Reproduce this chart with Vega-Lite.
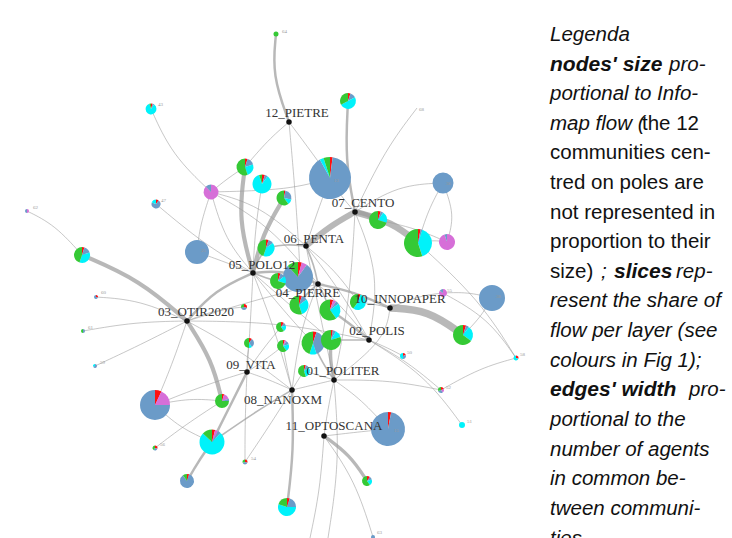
{
"$schema": "https://vega.github.io/schema/vega-lite/v6.json",
"width": 732, "height": 538,
"autosize": "none",
"padding": 0,
"background": "white",
"config": {"view": {"stroke": null}, "axis": {"disable": true}, "legend": {"disable": true}},
"datasets": {
"edges": [
{"e":1,"k":0,"x":289,"y":122,"w":3},{"e":1,"k":1,"x":272,"y":75,"w":3},{"e":1,"k":2,"x":276,"y":34,"w":3},
{"e":2,"k":0,"x":289,"y":122,"w":1},{"e":2,"k":1,"x":268,"y":140,"w":1},{"e":2,"k":2,"x":245,"y":167,"w":1},
{"e":3,"k":0,"x":289,"y":122,"w":1},{"e":3,"k":1,"x":296,"y":200,"w":1},{"e":3,"k":2,"x":300,"y":270,"w":1},
{"e":4,"k":0,"x":348,"y":101,"w":3},{"e":4,"k":1,"x":345,"y":160,"w":3},{"e":4,"k":2,"x":355,"y":212,"w":3},
{"e":5,"k":0,"x":355,"y":212,"w":8},{"e":5,"k":1,"x":392,"y":222,"w":8},{"e":5,"k":2,"x":418,"y":243,"w":8},
{"e":6,"k":0,"x":306,"y":246,"w":7},{"e":6,"k":1,"x":330,"y":226,"w":7},{"e":6,"k":2,"x":355,"y":212,"w":7},
{"e":7,"k":0,"x":355,"y":212,"w":5},{"e":7,"k":1,"x":367,"y":214,"w":5},{"e":7,"k":2,"x":378,"y":220,"w":5},
{"e":8,"k":0,"x":355,"y":212,"w":1},{"e":8,"k":1,"x":340,"y":195,"w":1},{"e":8,"k":2,"x":330,"y":178,"w":1},
{"e":9,"k":0,"x":355,"y":212,"w":1},{"e":9,"k":1,"x":398,"y":185,"w":1},{"e":9,"k":2,"x":443,"y":183,"w":1},
{"e":10,"k":0,"x":355,"y":212,"w":1},{"e":10,"k":1,"x":385,"y":150,"w":1},{"e":10,"k":2,"x":417,"y":108,"w":1},
{"e":11,"k":0,"x":443,"y":183,"w":1},{"e":11,"k":1,"x":455,"y":215,"w":1},{"e":11,"k":2,"x":447,"y":242,"w":1},
{"e":12,"k":0,"x":443,"y":183,"w":1},{"e":12,"k":1,"x":428,"y":210,"w":1},{"e":12,"k":2,"x":418,"y":243,"w":1},
{"e":13,"k":0,"x":418,"y":243,"w":1},{"e":13,"k":1,"x":433,"y":240,"w":1},{"e":13,"k":2,"x":447,"y":242,"w":1},
{"e":14,"k":0,"x":253,"y":273,"w":5},{"e":14,"k":1,"x":238,"y":220,"w":5},{"e":14,"k":2,"x":245,"y":167,"w":5},
{"e":15,"k":0,"x":253,"y":273,"w":5},{"e":15,"k":1,"x":262,"y":235,"w":5},{"e":15,"k":2,"x":284,"y":198,"w":5},
{"e":16,"k":0,"x":253,"y":273,"w":1},{"e":16,"k":1,"x":225,"y":240,"w":1},{"e":16,"k":2,"x":211,"y":192,"w":1},
{"e":17,"k":0,"x":211,"y":192,"w":1},{"e":17,"k":1,"x":172,"y":155,"w":1},{"e":17,"k":2,"x":151,"y":109,"w":1},
{"e":18,"k":0,"x":211,"y":192,"w":1},{"e":18,"k":1,"x":228,"y":178,"w":1},{"e":18,"k":2,"x":245,"y":167,"w":1},
{"e":19,"k":0,"x":211,"y":192,"w":1},{"e":19,"k":1,"x":200,"y":225,"w":1},{"e":19,"k":2,"x":197,"y":252,"w":1},
{"e":20,"k":0,"x":211,"y":192,"w":1},{"e":20,"k":1,"x":270,"y":225,"w":1},{"e":20,"k":2,"x":318,"y":284,"w":1},
{"e":21,"k":0,"x":211,"y":192,"w":1},{"e":21,"k":1,"x":290,"y":190,"w":1},{"e":21,"k":2,"x":330,"y":178,"w":1},
{"e":22,"k":0,"x":253,"y":273,"w":1},{"e":22,"k":1,"x":255,"y":230,"w":1},{"e":22,"k":2,"x":262,"y":184,"w":1},
{"e":23,"k":0,"x":253,"y":273,"w":2},{"e":23,"k":1,"x":258,"y":260,"w":2},{"e":23,"k":2,"x":266,"y":248,"w":2},
{"e":24,"k":0,"x":306,"y":246,"w":2},{"e":24,"k":1,"x":285,"y":244,"w":2},{"e":24,"k":2,"x":266,"y":248,"w":2},
{"e":25,"k":0,"x":306,"y":246,"w":1},{"e":25,"k":1,"x":318,"y":210,"w":1},{"e":25,"k":2,"x":330,"y":178,"w":1},
{"e":26,"k":0,"x":253,"y":273,"w":3},{"e":26,"k":1,"x":285,"y":270,"w":3},{"e":26,"k":2,"x":318,"y":284,"w":3},
{"e":27,"k":0,"x":253,"y":273,"w":2},{"e":27,"k":1,"x":266,"y":278,"w":2},{"e":27,"k":2,"x":278,"y":281,"w":2},
{"e":28,"k":0,"x":253,"y":273,"w":1},{"e":28,"k":1,"x":225,"y":262,"w":1},{"e":28,"k":2,"x":197,"y":252,"w":1},
{"e":29,"k":0,"x":187,"y":321,"w":5},{"e":29,"k":1,"x":140,"y":280,"w":5},{"e":29,"k":2,"x":82,"y":255,"w":5},
{"e":30,"k":0,"x":187,"y":321,"w":5},{"e":30,"k":1,"x":212,"y":360,"w":5},{"e":30,"k":2,"x":222,"y":401,"w":5},
{"e":31,"k":0,"x":187,"y":321,"w":3},{"e":31,"k":1,"x":215,"y":290,"w":3},{"e":31,"k":2,"x":253,"y":273,"w":3},
{"e":32,"k":0,"x":187,"y":321,"w":1},{"e":32,"k":1,"x":140,"y":300,"w":1},{"e":32,"k":2,"x":96,"y":297,"w":1},
{"e":33,"k":0,"x":187,"y":321,"w":1},{"e":33,"k":1,"x":135,"y":322,"w":1},{"e":33,"k":2,"x":83,"y":331,"w":1},
{"e":34,"k":0,"x":187,"y":321,"w":1},{"e":34,"k":1,"x":140,"y":345,"w":1},{"e":34,"k":2,"x":95,"y":366,"w":1},
{"e":35,"k":0,"x":187,"y":321,"w":1},{"e":35,"k":1,"x":172,"y":365,"w":1},{"e":35,"k":2,"x":155,"y":405,"w":1},
{"e":36,"k":0,"x":187,"y":321,"w":1},{"e":36,"k":1,"x":255,"y":300,"w":1},{"e":36,"k":2,"x":318,"y":284,"w":1},
{"e":37,"k":0,"x":187,"y":321,"w":1},{"e":37,"k":1,"x":280,"y":322,"w":1},{"e":37,"k":2,"x":369,"y":340,"w":1},
{"e":38,"k":0,"x":187,"y":321,"w":1},{"e":38,"k":1,"x":215,"y":310,"w":1},{"e":38,"k":2,"x":244,"y":307,"w":1},
{"e":39,"k":0,"x":247,"y":372,"w":3},{"e":39,"k":1,"x":228,"y":410,"w":3},{"e":39,"k":2,"x":212,"y":442,"w":3},
{"e":40,"k":0,"x":212,"y":442,"w":3},{"e":40,"k":1,"x":198,"y":462,"w":3},{"e":40,"k":2,"x":187,"y":481,"w":3},
{"e":41,"k":0,"x":155,"y":405,"w":1},{"e":41,"k":1,"x":190,"y":398,"w":1},{"e":41,"k":2,"x":222,"y":401,"w":1},
{"e":42,"k":0,"x":155,"y":405,"w":1},{"e":42,"k":1,"x":180,"y":428,"w":1},{"e":42,"k":2,"x":212,"y":442,"w":1},
{"e":43,"k":0,"x":222,"y":401,"w":1},{"e":43,"k":1,"x":185,"y":425,"w":1},{"e":43,"k":2,"x":155,"y":448,"w":1},
{"e":44,"k":0,"x":212,"y":442,"w":2},{"e":44,"k":1,"x":255,"y":412,"w":2},{"e":44,"k":2,"x":292,"y":390,"w":2},
{"e":45,"k":0,"x":247,"y":372,"w":1},{"e":45,"k":1,"x":245,"y":420,"w":1},{"e":45,"k":2,"x":245,"y":462,"w":1},
{"e":46,"k":0,"x":292,"y":390,"w":3},{"e":46,"k":1,"x":294,"y":450,"w":3},{"e":46,"k":2,"x":287,"y":507,"w":3},
{"e":47,"k":0,"x":292,"y":390,"w":1},{"e":47,"k":1,"x":313,"y":385,"w":1},{"e":47,"k":2,"x":334,"y":380,"w":1},
{"e":48,"k":0,"x":324,"y":436,"w":4},{"e":48,"k":1,"x":350,"y":455,"w":4},{"e":48,"k":2,"x":367,"y":481,"w":4},
{"e":49,"k":0,"x":324,"y":436,"w":1},{"e":49,"k":1,"x":320,"y":490,"w":1},{"e":49,"k":2,"x":310,"y":538,"w":1},
{"e":50,"k":0,"x":324,"y":436,"w":1},{"e":50,"k":1,"x":355,"y":480,"w":1},{"e":50,"k":2,"x":373,"y":537,"w":1},
{"e":51,"k":0,"x":334,"y":380,"w":1},{"e":51,"k":1,"x":362,"y":400,"w":1},{"e":51,"k":2,"x":388,"y":429,"w":1},
{"e":52,"k":0,"x":334,"y":380,"w":1},{"e":52,"k":1,"x":390,"y":380,"w":1},{"e":52,"k":2,"x":441,"y":390,"w":1},
{"e":53,"k":0,"x":334,"y":380,"w":4},{"e":53,"k":1,"x":330,"y":360,"w":4},{"e":53,"k":2,"x":331,"y":340,"w":4},
{"e":54,"k":0,"x":334,"y":380,"w":2},{"e":54,"k":1,"x":322,"y":362,"w":2},{"e":54,"k":2,"x":313,"y":343,"w":2},
{"e":55,"k":0,"x":334,"y":380,"w":1},{"e":55,"k":1,"x":318,"y":375,"w":1},{"e":55,"k":2,"x":304,"y":371,"w":1},
{"e":56,"k":0,"x":334,"y":380,"w":1},{"e":56,"k":1,"x":328,"y":408,"w":1},{"e":56,"k":2,"x":324,"y":436,"w":1},
{"e":57,"k":0,"x":369,"y":340,"w":3},{"e":57,"k":1,"x":348,"y":322,"w":3},{"e":57,"k":2,"x":330,"y":310,"w":3},
{"e":58,"k":0,"x":369,"y":340,"w":1},{"e":58,"k":1,"x":388,"y":348,"w":1},{"e":58,"k":2,"x":403,"y":356,"w":1},
{"e":59,"k":0,"x":369,"y":340,"w":1},{"e":59,"k":1,"x":425,"y":375,"w":1},{"e":59,"k":2,"x":462,"y":425,"w":1},
{"e":60,"k":0,"x":369,"y":340,"w":2},{"e":60,"k":1,"x":350,"y":340,"w":2},{"e":60,"k":2,"x":331,"y":340,"w":2},
{"e":61,"k":0,"x":390,"y":308,"w":9},{"e":61,"k":1,"x":428,"y":310,"w":9},{"e":61,"k":2,"x":463,"y":335,"w":9},
{"e":62,"k":0,"x":390,"y":308,"w":1},{"e":62,"k":1,"x":418,"y":296,"w":1},{"e":62,"k":2,"x":443,"y":293,"w":1},
{"e":63,"k":0,"x":390,"y":308,"w":3},{"e":63,"k":1,"x":355,"y":292,"w":3},{"e":63,"k":2,"x":318,"y":284,"w":3},
{"e":64,"k":0,"x":492,"y":298,"w":1},{"e":64,"k":1,"x":480,"y":318,"w":1},{"e":64,"k":2,"x":463,"y":335,"w":1},
{"e":65,"k":0,"x":492,"y":298,"w":1},{"e":65,"k":1,"x":468,"y":292,"w":1},{"e":65,"k":2,"x":443,"y":293,"w":1},
{"e":66,"k":0,"x":443,"y":293,"w":1},{"e":66,"k":1,"x":488,"y":318,"w":1},{"e":66,"k":2,"x":516,"y":358,"w":1},
{"e":67,"k":0,"x":441,"y":390,"w":1},{"e":67,"k":1,"x":480,"y":368,"w":1},{"e":67,"k":2,"x":516,"y":358,"w":1},
{"e":68,"k":0,"x":390,"y":308,"w":1},{"e":68,"k":1,"x":374,"y":304,"w":1},{"e":68,"k":2,"x":358,"y":302,"w":1},
{"e":69,"k":0,"x":418,"y":243,"w":1},{"e":69,"k":1,"x":480,"y":300,"w":1},{"e":69,"k":2,"x":516,"y":358,"w":1},
{"e":70,"k":0,"x":318,"y":284,"w":2},{"e":70,"k":1,"x":306,"y":294,"w":2},{"e":70,"k":2,"x":299,"y":305,"w":2},
{"e":71,"k":0,"x":318,"y":284,"w":2},{"e":71,"k":1,"x":325,"y":297,"w":2},{"e":71,"k":2,"x":330,"y":310,"w":2},
{"e":72,"k":0,"x":306,"y":246,"w":2},{"e":72,"k":1,"x":314,"y":265,"w":2},{"e":72,"k":2,"x":318,"y":284,"w":2},
{"e":73,"k":0,"x":306,"y":246,"w":1},{"e":73,"k":1,"x":335,"y":270,"w":1},{"e":73,"k":2,"x":358,"y":302,"w":1},
{"e":74,"k":0,"x":281,"y":327,"w":1},{"e":74,"k":1,"x":262,"y":350,"w":1},{"e":74,"k":2,"x":247,"y":372,"w":1},
{"e":75,"k":0,"x":283,"y":346,"w":1},{"e":75,"k":1,"x":265,"y":360,"w":1},{"e":75,"k":2,"x":247,"y":372,"w":1},
{"e":76,"k":0,"x":249,"y":343,"w":1},{"e":76,"k":1,"x":247,"y":358,"w":1},{"e":76,"k":2,"x":247,"y":372,"w":1},
{"e":77,"k":0,"x":292,"y":390,"w":1},{"e":77,"k":1,"x":298,"y":380,"w":1},{"e":77,"k":2,"x":304,"y":371,"w":1},
{"e":78,"k":0,"x":292,"y":390,"w":1},{"e":78,"k":1,"x":270,"y":380,"w":1},{"e":78,"k":2,"x":247,"y":372,"w":1},
{"e":79,"k":0,"x":292,"y":390,"w":1},{"e":79,"k":1,"x":287,"y":368,"w":1},{"e":79,"k":2,"x":283,"y":346,"w":1},
{"e":80,"k":0,"x":292,"y":390,"w":1},{"e":80,"k":1,"x":268,"y":428,"w":1},{"e":80,"k":2,"x":245,"y":462,"w":1},
{"e":81,"k":0,"x":334,"y":380,"w":1},{"e":81,"k":1,"x":340,"y":460,"w":1},{"e":81,"k":2,"x":328,"y":538,"w":1},
{"e":82,"k":0,"x":324,"y":436,"w":1},{"e":82,"k":1,"x":358,"y":432,"w":1},{"e":82,"k":2,"x":388,"y":429,"w":1},
{"e":83,"k":0,"x":369,"y":340,"w":1},{"e":83,"k":1,"x":408,"y":362,"w":1},{"e":83,"k":2,"x":441,"y":390,"w":1},
{"e":84,"k":0,"x":355,"y":212,"w":1},{"e":84,"k":1,"x":380,"y":275,"w":1},{"e":84,"k":2,"x":369,"y":340,"w":1},
{"e":85,"k":0,"x":355,"y":212,"w":1},{"e":85,"k":1,"x":350,"y":300,"w":1},{"e":85,"k":2,"x":334,"y":380,"w":1},
{"e":86,"k":0,"x":289,"y":122,"w":1},{"e":86,"k":1,"x":310,"y":150,"w":1},{"e":86,"k":2,"x":330,"y":178,"w":1},
{"e":87,"k":0,"x":306,"y":246,"w":1},{"e":87,"k":1,"x":340,"y":290,"w":1},{"e":87,"k":2,"x":369,"y":340,"w":1},
{"e":88,"k":0,"x":306,"y":246,"w":1},{"e":88,"k":1,"x":320,"y":315,"w":1},{"e":88,"k":2,"x":334,"y":380,"w":1},
{"e":89,"k":0,"x":156,"y":204,"w":1},{"e":89,"k":1,"x":205,"y":245,"w":1},{"e":89,"k":2,"x":253,"y":273,"w":1},
{"e":90,"k":0,"x":27,"y":211,"w":1},{"e":90,"k":1,"x":55,"y":225,"w":1},{"e":90,"k":2,"x":82,"y":255,"w":1},
{"e":91,"k":0,"x":253,"y":273,"w":1},{"e":91,"k":1,"x":283,"y":310,"w":1},{"e":91,"k":2,"x":313,"y":343,"w":1},
{"e":92,"k":0,"x":253,"y":273,"w":1},{"e":92,"k":1,"x":290,"y":305,"w":1},{"e":92,"k":2,"x":331,"y":340,"w":1},
{"e":93,"k":0,"x":211,"y":192,"w":1},{"e":93,"k":1,"x":260,"y":205,"w":1},{"e":93,"k":2,"x":306,"y":246,"w":1},
{"e":94,"k":0,"x":253,"y":273,"w":1},{"e":94,"k":1,"x":250,"y":330,"w":1},{"e":94,"k":2,"x":247,"y":372,"w":1},
{"e":95,"k":0,"x":253,"y":273,"w":1},{"e":95,"k":1,"x":275,"y":330,"w":1},{"e":95,"k":2,"x":292,"y":390,"w":1},
{"e":96,"k":0,"x":318,"y":284,"w":1},{"e":96,"k":1,"x":300,"y":330,"w":1},{"e":96,"k":2,"x":292,"y":390,"w":1},
{"e":97,"k":0,"x":318,"y":284,"w":1},{"e":97,"k":1,"x":345,"y":310,"w":1},{"e":97,"k":2,"x":369,"y":340,"w":1},
{"e":98,"k":0,"x":390,"y":308,"w":1},{"e":98,"k":1,"x":385,"y":340,"w":1},{"e":98,"k":2,"x":334,"y":380,"w":1},
{"e":99,"k":0,"x":187,"y":321,"w":1},{"e":99,"k":1,"x":240,"y":350,"w":1},{"e":99,"k":2,"x":292,"y":390,"w":1},
{"e":100,"k":0,"x":155,"y":405,"w":1},{"e":100,"k":1,"x":205,"y":385,"w":1},{"e":100,"k":2,"x":247,"y":372,"w":1},
{"e":101,"k":0,"x":378,"y":220,"w":1},{"e":101,"k":1,"x":415,"y":228,"w":1},{"e":101,"k":2,"x":447,"y":242,"w":1}
],
"pies": [
{"n":1,"x":276,"y":34,"f":6.25,"l":"e","v":1},
{"n":2,"x":151,"y":109,"f":30,"l":"a","v":0.05},{"n":2,"x":151,"y":109,"f":30,"l":"c","v":0.05},{"n":2,"x":151,"y":109,"f":30,"l":"d","v":0.85},{"n":2,"x":151,"y":109,"f":30,"l":"e","v":0.05},
{"n":3,"x":348,"y":101,"f":64,"l":"a","v":0.05},{"n":3,"x":348,"y":101,"f":64,"l":"c","v":0.12},{"n":3,"x":348,"y":101,"f":64,"l":"d","v":0.5},{"n":3,"x":348,"y":101,"f":64,"l":"e","v":0.33},
{"n":4,"x":330,"y":178,"f":441,"l":"a","v":0.02},{"n":4,"x":330,"y":178,"f":441,"l":"c","v":0.9},{"n":4,"x":330,"y":178,"f":441,"l":"d","v":0.03},{"n":4,"x":330,"y":178,"f":441,"l":"e","v":0.05},
{"n":5,"x":245,"y":167,"f":72,"l":"a","v":0.05},{"n":5,"x":245,"y":167,"f":72,"l":"c","v":0.15},{"n":5,"x":245,"y":167,"f":72,"l":"d","v":0.25},{"n":5,"x":245,"y":167,"f":72,"l":"e","v":0.55},
{"n":6,"x":262,"y":184,"f":90,"l":"a","v":0.05},{"n":6,"x":262,"y":184,"f":90,"l":"c","v":0.05},{"n":6,"x":262,"y":184,"f":90,"l":"d","v":0.85},{"n":6,"x":262,"y":184,"f":90,"l":"e","v":0.05},
{"n":7,"x":284,"y":198,"f":56,"l":"a","v":0.03},{"n":7,"x":284,"y":198,"f":56,"l":"c","v":0.25},{"n":7,"x":284,"y":198,"f":56,"l":"d","v":0.12},{"n":7,"x":284,"y":198,"f":56,"l":"e","v":0.6},
{"n":8,"x":211,"y":192,"f":56,"l":"b","v":0.88},{"n":8,"x":211,"y":192,"f":56,"l":"c","v":0.12},
{"n":9,"x":156,"y":204,"f":20,"l":"a","v":0.1},{"n":9,"x":156,"y":204,"f":20,"l":"c","v":0.7},{"n":9,"x":156,"y":204,"f":20,"l":"d","v":0.2},
{"n":10,"x":27,"y":211,"f":4,"l":"b","v":0.5},{"n":10,"x":27,"y":211,"f":4,"l":"c","v":0.5},
{"n":11,"x":443,"y":183,"f":110,"l":"c","v":1},
{"n":12,"x":378,"y":220,"f":81,"l":"a","v":0.05},{"n":12,"x":378,"y":220,"f":81,"l":"c","v":0.05},{"n":12,"x":378,"y":220,"f":81,"l":"d","v":0.2},{"n":12,"x":378,"y":220,"f":81,"l":"e","v":0.7},
{"n":13,"x":418,"y":243,"f":196,"l":"a","v":0.03},{"n":13,"x":418,"y":243,"f":196,"l":"c","v":0.02},{"n":13,"x":418,"y":243,"f":196,"l":"d","v":0.4},{"n":13,"x":418,"y":243,"f":196,"l":"e","v":0.55},
{"n":14,"x":447,"y":242,"f":64,"l":"b","v":0.95},{"n":14,"x":447,"y":242,"f":64,"l":"c","v":0.05},
{"n":15,"x":82,"y":255,"f":64,"l":"a","v":0.05},{"n":15,"x":82,"y":255,"f":64,"l":"c","v":0.15},{"n":15,"x":82,"y":255,"f":64,"l":"d","v":0.35},{"n":15,"x":82,"y":255,"f":64,"l":"e","v":0.45},
{"n":16,"x":197,"y":252,"f":144,"l":"c","v":1},
{"n":17,"x":266,"y":248,"f":72,"l":"a","v":0.05},{"n":17,"x":266,"y":248,"f":72,"l":"c","v":0.1},{"n":17,"x":266,"y":248,"f":72,"l":"d","v":0.4},{"n":17,"x":266,"y":248,"f":72,"l":"e","v":0.45},
{"n":18,"x":298,"y":277,"f":225,"l":"a","v":0.04},{"n":18,"x":298,"y":277,"f":225,"l":"b","v":0.06},{"n":18,"x":298,"y":277,"f":225,"l":"c","v":0.78},{"n":18,"x":298,"y":277,"f":225,"l":"e","v":0.12},
{"n":19,"x":278,"y":281,"f":64,"l":"a","v":0.05},{"n":19,"x":278,"y":281,"f":64,"l":"c","v":0.1},{"n":19,"x":278,"y":281,"f":64,"l":"d","v":0.15},{"n":19,"x":278,"y":281,"f":64,"l":"e","v":0.7},
{"n":20,"x":299,"y":305,"f":90,"l":"a","v":0.05},{"n":20,"x":299,"y":305,"f":90,"l":"c","v":0.1},{"n":20,"x":299,"y":305,"f":90,"l":"d","v":0.3},{"n":20,"x":299,"y":305,"f":90,"l":"e","v":0.55},
{"n":21,"x":330,"y":310,"f":110,"l":"a","v":0.05},{"n":21,"x":330,"y":310,"f":110,"l":"b","v":0.05},{"n":21,"x":330,"y":310,"f":110,"l":"c","v":0.05},{"n":21,"x":330,"y":310,"f":110,"l":"d","v":0.25},{"n":21,"x":330,"y":310,"f":110,"l":"e","v":0.6},
{"n":22,"x":358,"y":302,"f":64,"l":"a","v":0.05},{"n":22,"x":358,"y":302,"f":64,"l":"d","v":0.55},{"n":22,"x":358,"y":302,"f":64,"l":"e","v":0.4},
{"n":23,"x":492,"y":298,"f":169,"l":"c","v":1},
{"n":24,"x":463,"y":335,"f":100,"l":"a","v":0.05},{"n":24,"x":463,"y":335,"f":100,"l":"c","v":0.05},{"n":24,"x":463,"y":335,"f":100,"l":"d","v":0.25},{"n":24,"x":463,"y":335,"f":100,"l":"e","v":0.65},
{"n":25,"x":443,"y":293,"f":16,"l":"b","v":0.85},{"n":25,"x":443,"y":293,"f":16,"l":"c","v":0.15},
{"n":26,"x":281,"y":327,"f":25,"l":"a","v":0.1},{"n":26,"x":281,"y":327,"f":25,"l":"c","v":0.1},{"n":26,"x":281,"y":327,"f":25,"l":"d","v":0.2},{"n":26,"x":281,"y":327,"f":25,"l":"e","v":0.6},
{"n":27,"x":313,"y":343,"f":132,"l":"a","v":0.05},{"n":27,"x":313,"y":343,"f":132,"l":"c","v":0.4},{"n":27,"x":313,"y":343,"f":132,"l":"d","v":0.1},{"n":27,"x":313,"y":343,"f":132,"l":"e","v":0.45},
{"n":28,"x":331,"y":340,"f":100,"l":"a","v":0.03},{"n":28,"x":331,"y":340,"f":100,"l":"c","v":0.05},{"n":28,"x":331,"y":340,"f":100,"l":"d","v":0.12},{"n":28,"x":331,"y":340,"f":100,"l":"e","v":0.8},
{"n":29,"x":283,"y":346,"f":36,"l":"a","v":0.05},{"n":29,"x":283,"y":346,"f":36,"l":"b","v":0.05},{"n":29,"x":283,"y":346,"f":36,"l":"c","v":0.1},{"n":29,"x":283,"y":346,"f":36,"l":"d","v":0.2},{"n":29,"x":283,"y":346,"f":36,"l":"e","v":0.6},
{"n":30,"x":304,"y":371,"f":36,"l":"a","v":0.05},{"n":30,"x":304,"y":371,"f":36,"l":"c","v":0.1},{"n":30,"x":304,"y":371,"f":36,"l":"d","v":0.3},{"n":30,"x":304,"y":371,"f":36,"l":"e","v":0.55},
{"n":31,"x":244,"y":307,"f":9,"l":"a","v":0.3},{"n":31,"x":244,"y":307,"f":9,"l":"c","v":0.4},{"n":31,"x":244,"y":307,"f":9,"l":"e","v":0.3},
{"n":32,"x":249,"y":343,"f":25,"l":"a","v":0.1},{"n":32,"x":249,"y":343,"f":25,"l":"c","v":0.3},{"n":32,"x":249,"y":343,"f":25,"l":"d","v":0.1},{"n":32,"x":249,"y":343,"f":25,"l":"e","v":0.5},
{"n":33,"x":96,"y":297,"f":4,"l":"a","v":0.3},{"n":33,"x":96,"y":297,"f":4,"l":"c","v":0.7},
{"n":34,"x":83,"y":331,"f":4,"l":"c","v":0.5},{"n":34,"x":83,"y":331,"f":4,"l":"e","v":0.5},
{"n":35,"x":95,"y":366,"f":4,"l":"c","v":0.7},{"n":35,"x":95,"y":366,"f":4,"l":"d","v":0.3},
{"n":36,"x":155,"y":405,"f":225,"l":"a","v":0.07},{"n":36,"x":155,"y":405,"f":225,"l":"b","v":0.18},{"n":36,"x":155,"y":405,"f":225,"l":"c","v":0.75},
{"n":37,"x":222,"y":401,"f":49,"l":"a","v":0.05},{"n":37,"x":222,"y":401,"f":49,"l":"b","v":0.15},{"n":37,"x":222,"y":401,"f":49,"l":"c","v":0.05},{"n":37,"x":222,"y":401,"f":49,"l":"e","v":0.75},
{"n":38,"x":212,"y":442,"f":156,"l":"a","v":0.04},{"n":38,"x":212,"y":442,"f":156,"l":"b","v":0.04},{"n":38,"x":212,"y":442,"f":156,"l":"c","v":0.04},{"n":38,"x":212,"y":442,"f":156,"l":"d","v":0.75},{"n":38,"x":212,"y":442,"f":156,"l":"e","v":0.13},
{"n":39,"x":155,"y":448,"f":6.25,"l":"a","v":0.3},{"n":39,"x":155,"y":448,"f":6.25,"l":"c","v":0.3},{"n":39,"x":155,"y":448,"f":6.25,"l":"e","v":0.4},
{"n":40,"x":187,"y":481,"f":49,"l":"a","v":0.05},{"n":40,"x":187,"y":481,"f":49,"l":"c","v":0.85},{"n":40,"x":187,"y":481,"f":49,"l":"e","v":0.1},
{"n":41,"x":245,"y":462,"f":6.25,"l":"a","v":0.3},{"n":41,"x":245,"y":462,"f":6.25,"l":"c","v":0.4},{"n":41,"x":245,"y":462,"f":6.25,"l":"e","v":0.3},
{"n":42,"x":388,"y":429,"f":289,"l":"a","v":0.03},{"n":42,"x":388,"y":429,"f":289,"l":"c","v":0.97},
{"n":43,"x":403,"y":356,"f":9,"l":"a","v":0.2},{"n":43,"x":403,"y":356,"f":9,"l":"c","v":0.3},{"n":43,"x":403,"y":356,"f":9,"l":"d","v":0.5},
{"n":44,"x":441,"y":390,"f":9,"l":"a","v":0.2},{"n":44,"x":441,"y":390,"f":9,"l":"b","v":0.2},{"n":44,"x":441,"y":390,"f":9,"l":"c","v":0.3},{"n":44,"x":441,"y":390,"f":9,"l":"e","v":0.3},
{"n":45,"x":516,"y":358,"f":6.25,"l":"a","v":0.3},{"n":45,"x":516,"y":358,"f":6.25,"l":"d","v":0.7},
{"n":46,"x":462,"y":425,"f":9,"l":"d","v":1},
{"n":47,"x":367,"y":481,"f":25,"l":"a","v":0.1},{"n":47,"x":367,"y":481,"f":25,"l":"c","v":0.1},{"n":47,"x":367,"y":481,"f":25,"l":"d","v":0.2},{"n":47,"x":367,"y":481,"f":25,"l":"e","v":0.6},
{"n":48,"x":287,"y":507,"f":81,"l":"a","v":0.05},{"n":48,"x":287,"y":507,"f":81,"l":"c","v":0.2},{"n":48,"x":287,"y":507,"f":81,"l":"d","v":0.55},{"n":48,"x":287,"y":507,"f":81,"l":"e","v":0.2},
{"n":49,"x":373,"y":537,"f":4,"l":"c","v":1}
],
"poles": [
{"p":"12_PIETRE","x":289,"y":122,"lx":297,"ly":113},
{"p":"07_CENTO","x":355,"y":212,"lx":363,"ly":203},
{"p":"06_PENTA","x":306,"y":246,"lx":314,"ly":239},
{"p":"05_POLO12","x":253,"y":273,"lx":262,"ly":265},
{"p":"04_PIERRE","x":318,"y":284,"lx":308,"ly":293},
{"p":"10_INNOPAPER","x":390,"y":308,"lx":400,"ly":299},
{"p":"03_OTIR2020","x":187,"y":321,"lx":196,"ly":312},
{"p":"02_POLIS","x":369,"y":340,"lx":377,"ly":331},
{"p":"09_VITA","x":247,"y":372,"lx":251,"ly":365},
{"p":"01_POLITER","x":334,"y":380,"lx":343,"ly":371},
{"p":"08_NANOXM","x":292,"y":390,"lx":283,"ly":400},
{"p":"11_OPTOSCANA","x":324,"y":436,"lx":334,"ly":426}
],
"ids": [
{"t":"64","x":282,"y":31},{"t":"68","x":419,"y":109},{"t":"62","x":33,"y":207},{"t":"60","x":101,"y":292},
{"t":"61","x":88,"y":327},{"t":"59","x":100,"y":362},{"t":"56","x":160,"y":444},{"t":"54","x":251,"y":458},
{"t":"50","x":407,"y":352},{"t":"52","x":446,"y":387},{"t":"58","x":520,"y":354},{"t":"51","x":467,"y":421},
{"t":"63","x":377,"y":532},{"t":"55","x":447,"y":290},{"t":"43","x":158,"y":104},{"t":"47","x":161,"y":200},
{"t":"36","x":446,"y":183},{"t":"38","x":496,"y":296},{"t":"25","x":201,"y":250},{"t":"15","x":394,"y":430},{"t":"13","x":334,"y":180}
],
"txtItalic": [
{"t":"Legenda","x":550,"y":41},{"t":"pro-","x":669,"y":71},{"t":"portional to Info-","x":550,"y":100},
{"t":"map flow (","x":550,"y":130},{"t":";","x":601,"y":278},{"t":"rep-","x":676,"y":278},
{"t":"resent the share of","x":550,"y":307},{"t":"flow per layer (see","x":550,"y":337},{"t":"colours in Fig 1);","x":550,"y":367},
{"t":"pro-","x":689,"y":396},{"t":"portional to the","x":550,"y":426},{"t":"number of agents","x":550,"y":456},
{"t":"in common be-","x":550,"y":485},{"t":"tween communi-","x":550,"y":515},{"t":"ties","x":550,"y":545}
],
"txtBold": [
{"t":"nodes' size","x":550,"y":71},{"t":"slices","x":614,"y":278},{"t":"edges' width","x":550,"y":396}
],
"txtNormal": [
{"t":"the 12","x":642,"y":130},{"t":"communities cen-","x":550,"y":159},{"t":"tred on poles are","x":550,"y":189},
{"t":"not represented in","x":550,"y":219},{"t":"proportion to their","x":550,"y":248},{"t":"size)","x":550,"y":278}
]
},
"layer": [
{"data": {"name": "edges"},
 "mark": {"type": "line", "interpolate": "basis", "color": "#9a9a9a", "opacity": 0.7},
 "encoding": {
  "x": {"field": "x", "type": "quantitative", "scale": {"domain": [0, 732], "nice": false, "zero": false}},
  "y": {"field": "y", "type": "quantitative", "scale": {"domain": [0, 538], "nice": false, "zero": false, "reverse": true}},
  "detail": {"field": "e", "type": "nominal"},
  "order": {"field": "k", "type": "quantitative"},
  "strokeWidth": {"field": "w", "type": "quantitative", "scale": {"domain": [1, 9], "range": [0.8, 7.5]}}
 }},
{"data": {"name": "pies"},
 "transform": [{"stack": "v", "groupby": ["n"], "sort": [{"field": "l", "order": "ascending"}], "offset": "normalize", "as": ["t0", "t1"]}],
 "mark": {"type": "arc"},
 "encoding": {
  "x": {"field": "x", "type": "quantitative"},
  "y": {"field": "y", "type": "quantitative"},
  "theta": {"field": "t0", "type": "quantitative", "scale": {"domain": [0, 1], "range": [0, 6.283185]}},
  "theta2": {"field": "t1"},
  "radius": {"field": "f", "type": "quantitative", "scale": {"type": "sqrt", "domain": [0, 441], "range": [0, 21], "zero": true}},
  "color": {"field": "l", "type": "nominal", "scale": {"domain": ["a", "b", "c", "d", "e"], "range": ["#ff1010", "#d66fd8", "#6b9bc8", "#00f2fa", "#35c935"]}}
 }},
{"data": {"name": "poles"},
 "mark": {"type": "circle", "size": 30, "color": "#111111", "opacity": 1},
 "encoding": {
  "x": {"field": "x", "type": "quantitative"},
  "y": {"field": "y", "type": "quantitative"}
 }},
{"data": {"name": "poles"},
 "mark": {"type": "text", "font": "Liberation Serif", "fontSize": 13, "color": "#333333", "align": "center", "baseline": "middle"},
 "encoding": {
  "x": {"field": "lx", "type": "quantitative"},
  "y": {"field": "ly", "type": "quantitative"},
  "text": {"field": "p"}
 }},
{"data": {"name": "ids"},
 "mark": {"type": "text", "font": "Liberation Serif", "fontSize": 5, "color": "#999999", "align": "left", "baseline": "middle"},
 "encoding": {
  "x": {"field": "x", "type": "quantitative"},
  "y": {"field": "y", "type": "quantitative"},
  "text": {"field": "t"}
 }},
{"data": {"name": "txtItalic"},
 "mark": {"type": "text", "font": "Liberation Sans", "fontSize": 20.5, "fontStyle": "italic", "color": "#111111", "align": "left", "baseline": "alphabetic"},
 "encoding": {
  "x": {"field": "x", "type": "quantitative"},
  "y": {"field": "y", "type": "quantitative"},
  "text": {"field": "t"}
 }},
{"data": {"name": "txtBold"},
 "mark": {"type": "text", "font": "Liberation Sans", "fontSize": 21, "fontStyle": "italic", "fontWeight": "bold", "color": "#111111", "align": "left", "baseline": "alphabetic"},
 "encoding": {
  "x": {"field": "x", "type": "quantitative"},
  "y": {"field": "y", "type": "quantitative"},
  "text": {"field": "t"}
 }},
{"data": {"name": "txtNormal"},
 "mark": {"type": "text", "font": "Liberation Sans", "fontSize": 20.5, "color": "#111111", "align": "left", "baseline": "alphabetic"},
 "encoding": {
  "x": {"field": "x", "type": "quantitative"},
  "y": {"field": "y", "type": "quantitative"},
  "text": {"field": "t"}
 }}
]
}
